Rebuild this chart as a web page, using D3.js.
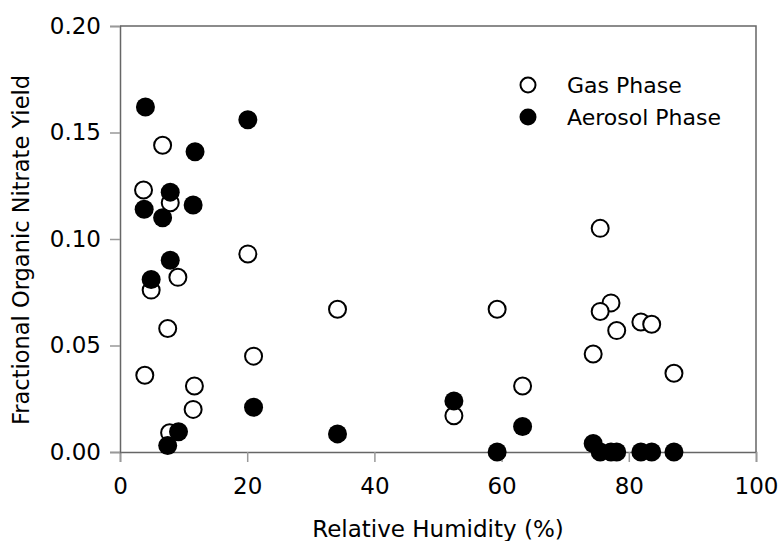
<!DOCTYPE html>
<html>
<head>
<meta charset="utf-8">
<script src="https://cdn.jsdelivr.net/npm/d3@7"></script>
<style>
  body { margin: 0; background: #fff; }
  svg text { font-family: "DejaVu Sans", sans-serif; fill: #000; }
</style>
</head>
<body>
<div id="chart"></div>
<script>
// gas phase points (open circles)
var gasRH    = [6.7, 3.7, 7.9, 4.9, 9.1, 7.5, 3.9, 11.7, 11.5, 7.8, 20.1, 21.0, 34.2, 52.5, 59.3, 63.3, 75.5, 77.2, 75.5, 78.1, 74.4, 81.9, 83.6, 87.1];
var gasYield = [0.144, 0.123, 0.117, 0.076, 0.082, 0.058, 0.036, 0.031, 0.020, 0.009, 0.093, 0.045, 0.067, 0.017, 0.067, 0.031, 0.105, 0.070, 0.066, 0.057, 0.046, 0.061, 0.060, 0.037];

// aerosol phase points (filled circles)
var aeroRH    = [4.0, 20.1, 11.8, 7.9, 3.8, 11.5, 6.7, 7.9, 4.9, 21.0, 9.2, 7.5, 34.2, 52.5, 63.3, 59.3, 74.4, 75.5, 77.2, 78.1, 81.9, 83.6, 87.1];
var aeroYield = [0.162, 0.156, 0.141, 0.122, 0.114, 0.116, 0.110, 0.090, 0.081, 0.021, 0.0095, 0.003, 0.0085, 0.024, 0.012, 0.0, 0.004, 0.0, 0.0, 0.0, 0.0, 0.0, 0.0];

var xTicks = [0, 20, 40, 60, 80, 100];
var yTicks = [0, 0.05, 0.10, 0.15, 0.20];
var seriesNames = ["Gas Phase", "Aerosol Phase"];

var width = 781, height = 541;
var margin = {top: 26, right: 25, bottom: 89, left: 120};
var w = width - margin.left - margin.right,
    h = height - margin.top - margin.bottom;

var svg = d3.select("#chart")
    .append("svg")
    .attr("width", width)
    .attr("height", height);

var g = svg.append("g")
    .attr("transform", "translate(" + margin.left + "," + margin.top + ")");

var x = d3.scaleLinear().domain([0, 100]).range([0, w]);
var y = d3.scaleLinear().domain([0, 0.20]).range([h, 0]);

// frame (top + right)
g.append("path")
    .attr("d", "M0,0H" + w + "V" + h)
    .style("fill", "none")
    .style("stroke", "#666")
    .style("stroke-width", "1.5px");

var xAxis = d3.axisBottom(x)
    .tickValues(xTicks)
    .tickSize(10)
    .tickPadding(16)
    .tickFormat(d3.format("d"));

var yAxis = d3.axisLeft(y)
    .tickValues(yTicks)
    .tickSize(10)
    .tickPadding(9)
    .tickFormat(d3.format(".2f"));

var gx = g.append("g")
    .attr("transform", "translate(0," + h + ")")
    .call(xAxis);
var gy = g.append("g").call(yAxis);

[gx, gy].forEach(function (ax) {
    ax.select(".domain").style("stroke", "#666").style("stroke-width", "1.5px");
    ax.selectAll(".tick line").style("stroke", "#999").style("stroke-width", "1.5px");
    ax.selectAll(".tick text").style("font-size", "23px").style("font-family", "DejaVu Sans");
});

// axis titles
g.append("text")
    .attr("x", w / 2)
    .attr("y", h + 85)
    .attr("text-anchor", "middle")
    .style("font-size", "23px")
    .text("Relative Humidity (%)");

g.append("text")
    .attr("transform", "translate(" + (29 - margin.left) + "," + (250 - margin.top) + ") rotate(-90)")
    .attr("text-anchor", "middle")
    .style("font-size", "22.5px")
    .text("Fractional Organic Nitrate Yield");

// gas phase (open)
g.selectAll("circle.gas")
    .data(d3.range(gasRH.length))
    .enter()
    .append("circle")
    .attr("class", "gas")
    .attr("cx", function (i) { return x(gasRH[i]); })
    .attr("cy", function (i) { return y(gasYield[i]); })
    .attr("r", 8.5)
    .style("fill", "#fff")
    .style("stroke", "#000")
    .style("stroke-width", "2px");

// aerosol phase (filled)
g.selectAll("circle.aero")
    .data(d3.range(aeroRH.length))
    .enter()
    .append("circle")
    .attr("class", "aero")
    .attr("cx", function (i) { return x(aeroRH[i]); })
    .attr("cy", function (i) { return y(aeroYield[i]); })
    .attr("r", 9.5)
    .style("fill", "#000");

// legend
var legend = svg.append("g").attr("transform", "translate(528,85)");
legend.append("circle")
    .attr("r", 7.5)
    .style("fill", "#fff")
    .style("stroke", "#000")
    .style("stroke-width", "2px");
legend.append("circle")
    .attr("cy", 32)
    .attr("r", 8.5)
    .style("fill", "#000");
legend.selectAll("text")
    .data(seriesNames)
    .enter()
    .append("text")
    .attr("x", 39)
    .attr("y", function (d, i) { return i * 32; })
    .attr("dy", "0.35em")
    .style("font-size", "22px")
    .text(function (d) { return d; });
</script>
</body>
</html>
